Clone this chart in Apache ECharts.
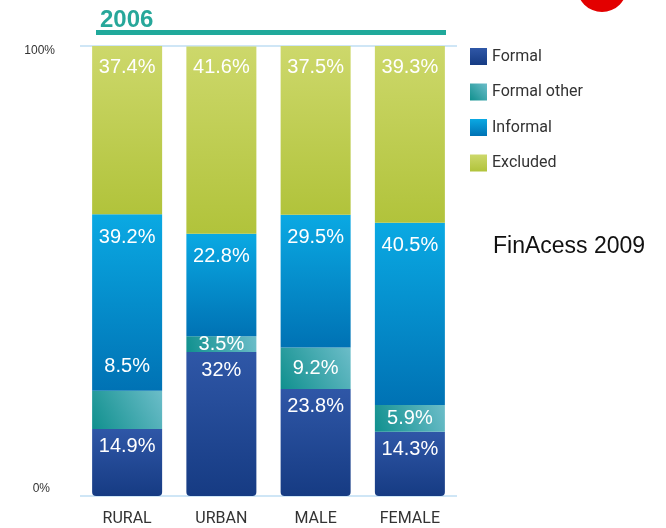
<!DOCTYPE html>
<html>
<head>
<meta charset="utf-8">
<script src="https://cdn.jsdelivr.net/npm/echarts@6/dist/echarts.min.js"></script>
<style>
  html, body { margin: 0; padding: 0; background: #fff; }
  #chart { width: 666px; height: 528px; }
</style>
</head>
<body>
<div id="chart"></div>
<script>
// ==============================
// 데이터
// ==============================
const categories = ['RURAL', 'URBAN', 'MALE', 'FEMALE'];
const formal = [14.9, 32, 23.8, 14.3];
const formalOther = [8.5, 3.5, 9.2, 5.9];
const informal = [39.2, 22.8, 29.5, 40.5];
const excluded = [37.4, 41.6, 37.5, 39.3];
const seriesNames = ['Formal', 'Formal other', 'Informal', 'Excluded'];
const yTicks = [0, 100];

// 색상 (그라데이션)
function vGrad(top, bottom) {
  return { type: 'linear', x: 0, y: 0, x2: 0, y2: 1,
    colorStops: [{ offset: 0, color: top }, { offset: 1, color: bottom }] };
}
const colors = [
  vGrad('#2f57a7', '#163b83'),
  { type: 'linear', x: 0, y: 1, x2: 1, y2: 0,
    colorStops: [{ offset: 0, color: '#10908e' }, { offset: 1, color: '#6cbdc9' }] },
  vGrad('#0aa9e3', '#0072b4'),
  vGrad('#cdd86b', '#b1c33b')
];

const chart = echarts.init(document.getElementById('chart'));

const labelBase = {
  show: true,
  color: '#fff',
  fontFamily: 'Liberation Sans, Arial, sans-serif',
  fontSize: 20,
  formatter: p => p.value + '%'
};

function makeSeries(name, data, i, labelPos, dist) {
  return {
    name,
    type: 'bar',
    stack: 'total',
    barWidth: 70,
    data: data.map((v, j) => {
      // RURAL 'Formal other' 라벨은 위쪽에 표시됨
      if (i === 1 && j === 0) return { value: v, label: { offset: [0, -43] } };
      return v;
    }),
    itemStyle: {
      color: colors[i],
      borderRadius: i === 0 ? [0, 0, 4, 4] : 0
    },
    label: Object.assign({}, labelBase, { position: labelPos, distance: dist })
  };
}

chart.setOption({
  animation: false,
  title: {
    text: '2006',
    left: 95,
    top: 3,
    textStyle: {
      color: '#27a79a',
      fontSize: 24,
      fontWeight: 'bold',
      fontFamily: 'Liberation Sans, Arial, sans-serif'
    }
  },
  legend: {
    data: seriesNames,
    orient: 'vertical',
    left: 470,
    top: 48,
    padding: 0,
    itemWidth: 17,
    itemHeight: 17,
    itemGap: 18.5,
    icon: 'rect',
    textStyle: {
      color: '#333',
      fontSize: 16,
      fontFamily: 'Roboto, sans-serif'
    }
  },
  grid: { left: 80, right: 209, top: 46, bottom: 32 },
  xAxis: {
    type: 'category',
    data: categories,
    axisLine: { show: false },
    axisTick: { show: false },
    axisLabel: {
      color: '#333',
      fontSize: 16,
      fontFamily: 'Roboto, sans-serif',
      margin: 15
    }
  },
  yAxis: {
    type: 'value',
    min: yTicks[0],
    max: yTicks[1],
    interval: 100,
    axisLine: { show: false },
    axisTick: { show: false },
    splitLine: { lineStyle: { color: '#cfe6f6', width: 2 } },
    axisLabel: {
      color: '#333',
      fontSize: 12,
      fontFamily: 'Liberation Sans, Arial, sans-serif',
      margin: 25,
      formatter: v => v === 100 ? '{a|100%}' : '{b|0%}',
      rich: {
        a: { padding: [10, 0, 0, 0], fontSize: 12, color: '#333' },
        b: { padding: [0, 5, 14, 0], fontSize: 12, color: '#333' }
      }
    }
  },
  graphic: [
    { type: 'rect', shape: { x: 96, y: 30, width: 350, height: 5 }, style: { fill: '#20a99b' } },
    { type: 'circle', shape: { cx: 602, cy: -13, r: 25 }, style: { fill: '#e30000' } },
    {
      type: 'text', left: 493, top: 235,
      style: { text: 'FinAcess 2009', fill: '#111', fontSize: 23, fontFamily: 'Liberation Sans, Arial, sans-serif' }
    }
  ],
  series: [
    makeSeries(seriesNames[0], formal, 0, 'insideTop', 8),
    makeSeries(seriesNames[1], formalOther, 1, 'inside', 0),
    makeSeries(seriesNames[2], informal, 2, 'insideTop', 13),
    makeSeries(seriesNames[3], excluded, 3, 'insideTop', 11)
  ]
});
</script>
</body>
</html>
